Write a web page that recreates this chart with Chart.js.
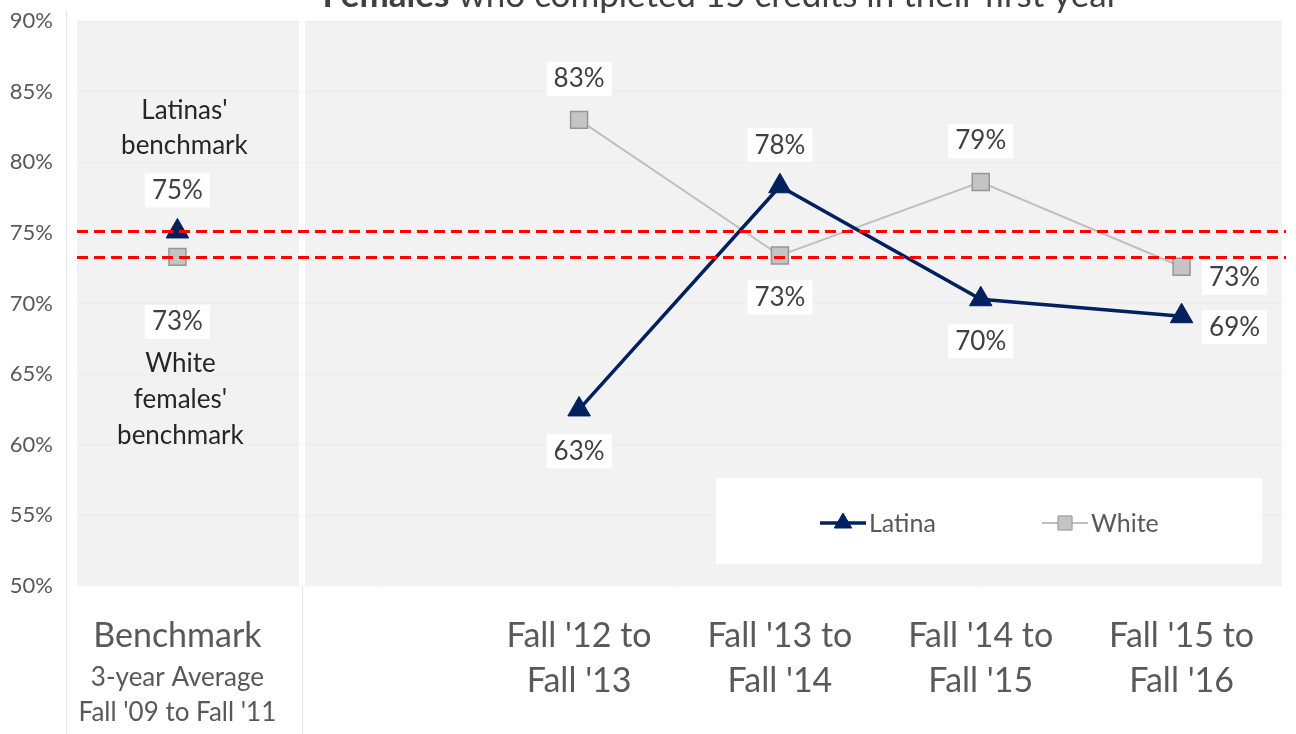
<!DOCTYPE html>
<html>
<head>
<meta charset="utf-8">
<script src="https://cdn.jsdelivr.net/npm/chart.js@4.4.0/dist/chart.umd.min.js"></script>
<style>
    html, body { margin: 0; padding: 0; background: #ffffff; }
    canvas { display: block; }
</style>
</head>
<body>
<canvas id="canvas1" width="1296" height="734"></canvas>
<script>
// Chart data
const categories = ['Benchmark', '', "Fall '12 to Fall '13", "Fall '13 to Fall '14", "Fall '14 to Fall '15", "Fall '15 to Fall '16"]
const categoryLines = [['Benchmark'], [], ["Fall '12 to", "Fall '13"], ["Fall '13 to", "Fall '14"], ["Fall '14 to", "Fall '15"], ["Fall '15 to", "Fall '16"]]
const benchmarkSubLines = ['3-year Average', "Fall '09 to Fall '11"]
const latinaValues = [75.1, null, 62.5, 78.3, 70.3, 69.1]
const whiteValues = [73.3, null, 83.0, 73.4, 78.6, 72.6]
const yTicks = [50, 55, 60, 65, 70, 75, 80, 85, 90]
const titleBold = 'Females'
const titleRest = ' who completed 15 credits in their first year'
const latinaNote = ["Latinas'", 'benchmark']
const whiteNote = ['White', "females'", 'benchmark']

// where each data label sits relative to its point
const latinaLabelPos = ['above', null, 'below', 'above', 'below', 'right']
const whiteLabelPos = ['belowFar', null, 'above', 'below', 'above', 'right']
const labelOffsets = {
    above: { dx: 0, dy: -41 },
    below: { dx: 0, dy: 42 },
    belowFar: { dx: 0, dy: 65 },
    right: { dx: 53, dy: 11 }
}

const FONT = "Lato, 'Open Sans', sans-serif"
const NAVY = '#002060'
const GRAY_LINE = '#bfbfbf'

function drawMarker(ctx, style, x, y, r, fill, stroke) {
    ctx.save()
    ctx.fillStyle = fill
    ctx.strokeStyle = stroke
    ctx.lineWidth = 1
    Chart.helpers.drawPoint(ctx, { pointStyle: style, radius: r, borderWidth: 1, rotation: 0 }, x, y)
    ctx.restore()
}

const chartDecor = {
    id: 'chartDecor',
    beforeDraw(chart) {
        const { ctx, chartArea: a, scales: { x } } = chart
        ctx.save()
        ctx.fillStyle = '#f2f2f2'
        ctx.fillRect(a.left, a.top, a.right - a.left, a.bottom - a.top)

        // white divider between benchmark panel and the trend panel
        const step = x.getPixelForValue(1) - x.getPixelForValue(0)
        const divX = Math.round(x.getPixelForValue(0) + step * 0.62)
        ctx.fillStyle = '#ffffff'
        ctx.fillRect(divX - 3, a.top, 6, a.bottom - a.top)

        ctx.strokeStyle = '#e6e6e6'
        ctx.lineWidth = 1
        ctx.beginPath()
        ctx.moveTo(divX + 0.5, a.bottom)
        ctx.lineTo(divX + 0.5, chart.height)
        ctx.moveTo(a.left - 10.5, 10)
        ctx.lineTo(a.left - 10.5, chart.height)
        ctx.stroke()
        ctx.restore()
    },
    afterDraw(chart) {
        const { ctx, chartArea: a, scales: { x, y } } = chart
        ctx.save()

        // benchmark lines
        ctx.strokeStyle = '#ff0000'
        ctx.lineWidth = 3
        ctx.setLineDash([11, 6])
        ;[latinaValues[0], whiteValues[0]].forEach(v => {
            const py = Math.round(y.getPixelForValue(v)) + 0.5
            ctx.beginPath()
            ctx.moveTo(a.left, py)
            ctx.lineTo(a.right + 4, py)
            ctx.stroke()
        })
        ctx.setLineDash([])

        // data labels
        ctx.font = '26px ' + FONT
        ctx.textAlign = 'center'
        ctx.textBaseline = 'middle'
        const series = [[latinaValues, latinaLabelPos, 0], [whiteValues, whiteLabelPos, 1]]
        series.forEach(([vals, pos, di]) => {
            const meta = chart.getDatasetMeta(di)
            vals.forEach((v, i) => {
                if (v === null || !pos[i]) return
                const pt = meta.data[i]
                const off = labelOffsets[pos[i]]
                const text = Math.round(v) + '%'
                const lx = pt.x + off.dx
                const ly = pt.y + off.dy
                const w = ctx.measureText(text).width
                ctx.fillStyle = '#ffffff'
                ctx.fillRect(lx - w / 2 - 7, ly - 17, w + 14, 34)
                ctx.fillStyle = '#404040'
                ctx.fillText(text, lx, ly)
            })
        })

        // benchmark notes
        const bx = x.getPixelForValue(0) + 3
        const lp = chart.getDatasetMeta(0).data[0]
        const wp = chart.getDatasetMeta(1).data[0]
        ctx.fillStyle = '#262626'
        ctx.font = '26px ' + FONT
        latinaNote.forEach((t, i) => {
            ctx.fillText(t, bx + 4, lp.y - 121 + i * 35)
        })
        whiteNote.forEach((t, i) => {
            ctx.fillText(t, bx, wp.y + 107 + i * 36)
        })

        // x labels
        ctx.fillStyle = '#595959'
        categoryLines.forEach((lines, i) => {
            const cx = x.getPixelForValue(i)
            ctx.font = '34px ' + FONT
            lines.forEach((t, j) => {
                ctx.fillText(t, cx, a.bottom + 50 + j * 45)
            })
            if (i === 0) {
                ctx.font = '26px ' + FONT
                benchmarkSubLines.forEach((t, j) => {
                    ctx.fillText(t, cx, a.bottom + 92 + j * 35)
                })
            }
        })

        // legend box
        const lx0 = a.right - 566
        const ly0 = a.bottom - 108
        ctx.fillStyle = '#ffffff'
        ctx.fillRect(lx0, ly0, 546, 86)
        const ly = ly0 + 45
        const items = [
            { ds: chart.data.datasets[0], cx: lx0 + 127 },
            { ds: chart.data.datasets[1], cx: lx0 + 349 }
        ]
        items.forEach(it => {
            ctx.strokeStyle = it.ds.borderColor
            ctx.lineWidth = it.ds.borderWidth
            ctx.beginPath()
            ctx.moveTo(it.cx - 23, ly)
            ctx.lineTo(it.cx + 23, ly)
            ctx.stroke()
            drawMarker(ctx, it.ds.pointStyle, it.cx, ly, 10, it.ds.pointBackgroundColor, it.ds.pointBorderColor)
            ctx.fillStyle = '#595959'
            ctx.font = '25px ' + FONT
            ctx.textAlign = 'left'
            ctx.fillText(it.ds.label, it.cx + 26, ly + 1)
        })

        // title, cut off by the top edge
        ctx.textBaseline = 'alphabetic'
        ctx.textAlign = 'left'
        ctx.font = 'bold 35px ' + FONT
        const wb = ctx.measureText(titleBold).width
        ctx.font = '35px ' + FONT
        const wr = ctx.measureText(titleRest).width
        const tx = a.left + 644 - (wb + wr) / 2
        ctx.fillStyle = '#404040'
        ctx.font = 'bold 35px ' + FONT
        ctx.fillText(titleBold, tx, 7)
        ctx.font = '35px ' + FONT
        ctx.fillText(titleRest, tx + wb, 7)

        ctx.restore()
    }
}

const config = {
    type: 'line',
    data: {
        labels: categories,
        datasets: [
            {
                label: 'Latina',
                data: latinaValues,
                borderColor: NAVY,
                backgroundColor: NAVY,
                borderWidth: 3.5,
                pointStyle: 'triangle',
                pointRadius: 13,
                pointBackgroundColor: NAVY,
                pointBorderColor: NAVY,
                pointBorderWidth: 1,
                spanGaps: false,
                tension: 0
            },
            {
                label: 'White',
                data: whiteValues,
                borderColor: GRAY_LINE,
                backgroundColor: GRAY_LINE,
                borderWidth: 2,
                pointStyle: 'rect',
                pointRadius: 12,
                pointBackgroundColor: '#c4c4c4',
                pointBorderColor: '#969696',
                pointBorderWidth: 1.5,
                spanGaps: false,
                tension: 0
            }
        ]
    },
    options: {
        responsive: false,
        animation: false,
        layout: {
            padding: { top: 21, right: 8, left: 0, bottom: 0 }
        },
        plugins: {
            legend: { display: false },
            title: { display: false },
            tooltip: { enabled: false }
        },
        scales: {
            x: {
                type: 'category',
                offset: true,
                grid: { display: false },
                border: { display: false },
                ticks: { display: false },
                afterFit: function(scale) { scale.height = 148 }
            },
            y: {
                min: 50,
                max: 90,
                afterBuildTicks: function(scale) {
                    scale.ticks = yTicks.map(v => ({ value: v }))
                },
                afterFit: function(scale) {
                    scale.width = 77
                    scale.paddingTop = 0
                    scale.paddingBottom = 0
                },
                border: { display: false },
                grid: { color: 'rgba(0, 0, 0, 0.025)', drawTicks: false },
                ticks: {
                    color: '#595959',
                    padding: 24,
                    font: { size: 22, family: FONT },
                    callback: function(value) { return value + '%' }
                }
            }
        }
    },
    plugins: [chartDecor]
}

const canvas = document.getElementById('canvas1')
new Chart(canvas.getContext('2d'), config)
</script>
</body>
</html>
